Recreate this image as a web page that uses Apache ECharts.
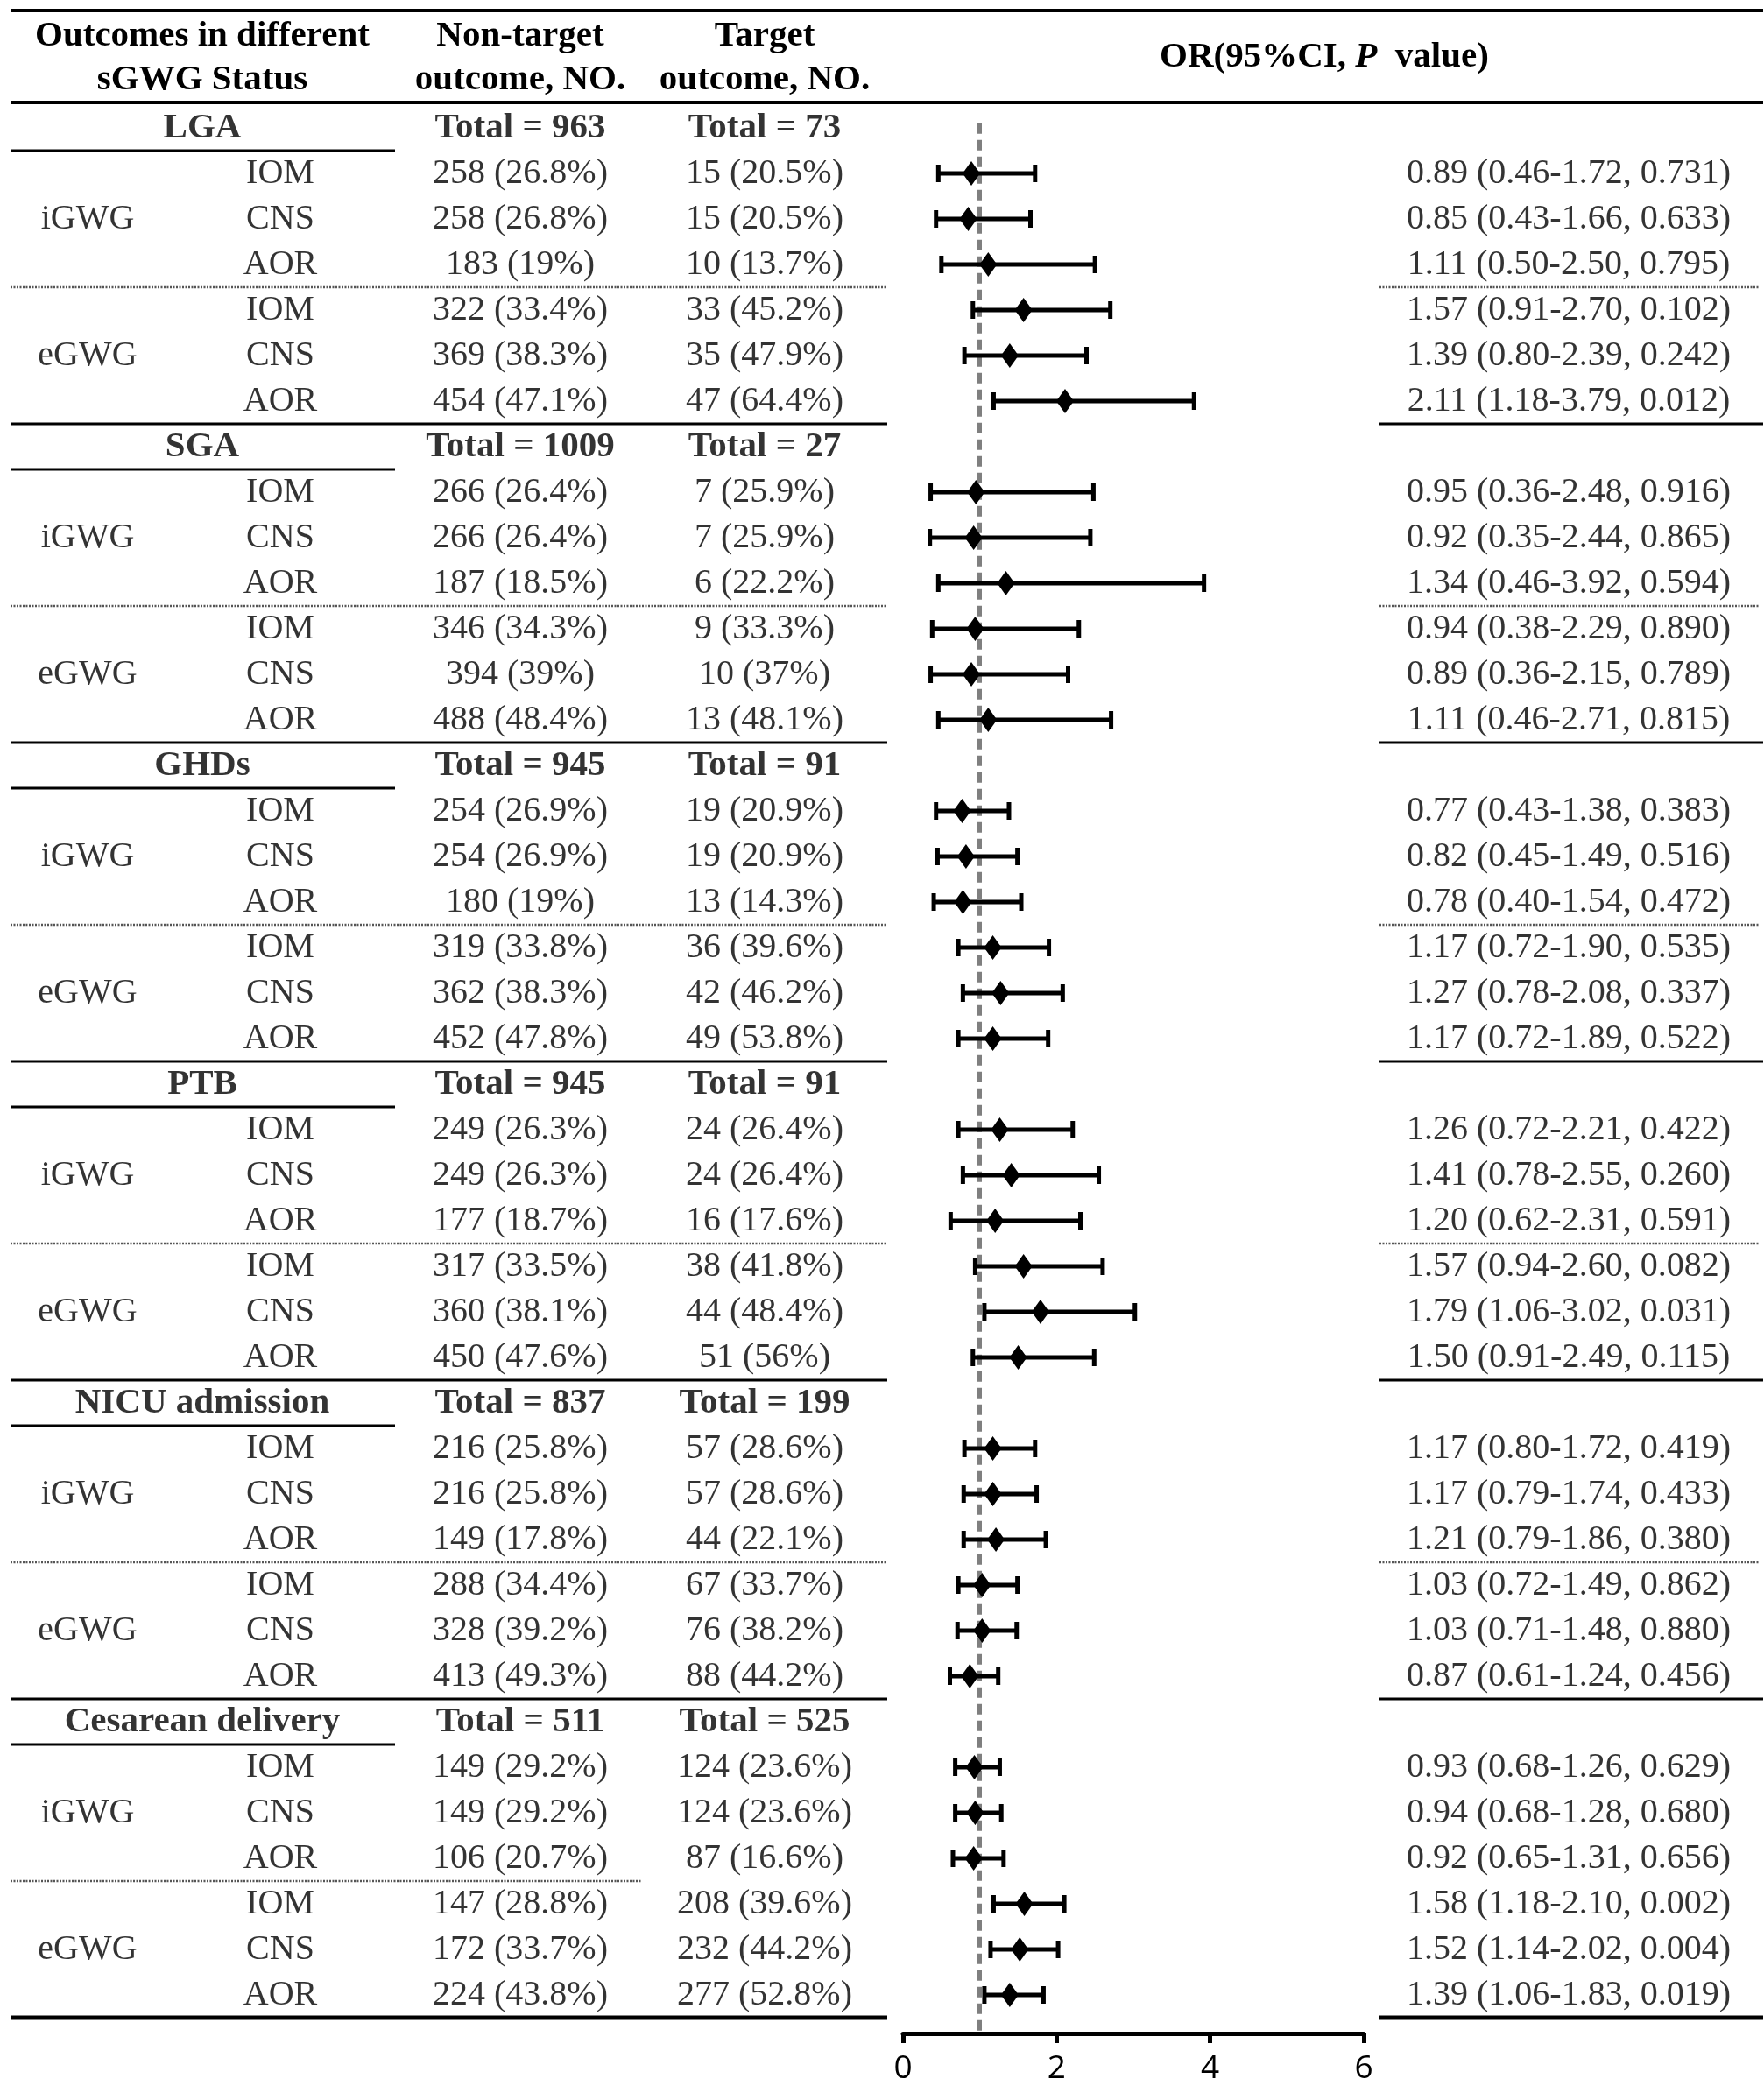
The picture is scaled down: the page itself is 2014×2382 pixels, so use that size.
<!DOCTYPE html>
<html>
<head>
<meta charset="utf-8">
<script src="https://cdn.jsdelivr.net/npm/echarts@6/dist/echarts.min.js"></script>
<style>
html,body{margin:0;padding:0;background:#fff;}
#c{width:2014px;height:2382px;}
</style>
</head>
<body>
<div id="c"></div>
<script>
// ---------------- DATA ----------------
const groups = ['LGA', 'SGA', 'GHDs', 'PTB', 'NICU admission', 'Cesarean delivery'];
const totalNonTarget = [963, 1009, 945, 945, 837, 511];
const totalTarget = [73, 27, 91, 91, 199, 525];
const statuses = ['iGWG', 'eGWG'];
const methods = ['IOM', 'CNS', 'AOR'];

const nonTargetN = [
  [258, 258, 183, 322, 369, 454],
  [266, 266, 187, 346, 394, 488],
  [254, 254, 180, 319, 362, 452],
  [249, 249, 177, 317, 360, 450],
  [216, 216, 149, 288, 328, 413],
  [149, 149, 106, 147, 172, 224]
];
const nonTargetPct = [
  ['26.8', '26.8', '19', '33.4', '38.3', '47.1'],
  ['26.4', '26.4', '18.5', '34.3', '39', '48.4'],
  ['26.9', '26.9', '19', '33.8', '38.3', '47.8'],
  ['26.3', '26.3', '18.7', '33.5', '38.1', '47.6'],
  ['25.8', '25.8', '17.8', '34.4', '39.2', '49.3'],
  ['29.2', '29.2', '20.7', '28.8', '33.7', '43.8']
];
const targetN = [
  [15, 15, 10, 33, 35, 47],
  [7, 7, 6, 9, 10, 13],
  [19, 19, 13, 36, 42, 49],
  [24, 24, 16, 38, 44, 51],
  [57, 57, 44, 67, 76, 88],
  [124, 124, 87, 208, 232, 277]
];
const targetPct = [
  ['20.5', '20.5', '13.7', '45.2', '47.9', '64.4'],
  ['25.9', '25.9', '22.2', '33.3', '37', '48.1'],
  ['20.9', '20.9', '14.3', '39.6', '46.2', '53.8'],
  ['26.4', '26.4', '17.6', '41.8', '48.4', '56'],
  ['28.6', '28.6', '22.1', '33.7', '38.2', '44.2'],
  ['23.6', '23.6', '16.6', '39.6', '44.2', '52.8']
];
const orValue = [
  [0.89, 0.85, 1.11, 1.57, 1.39, 2.11],
  [0.95, 0.92, 1.34, 0.94, 0.89, 1.11],
  [0.77, 0.82, 0.78, 1.17, 1.27, 1.17],
  [1.26, 1.41, 1.20, 1.57, 1.79, 1.50],
  [1.17, 1.17, 1.21, 1.03, 1.03, 0.87],
  [0.93, 0.94, 0.92, 1.58, 1.52, 1.39]
];
const ciLow = [
  [0.46, 0.43, 0.50, 0.91, 0.80, 1.18],
  [0.36, 0.35, 0.46, 0.38, 0.36, 0.46],
  [0.43, 0.45, 0.40, 0.72, 0.78, 0.72],
  [0.72, 0.78, 0.62, 0.94, 1.06, 0.91],
  [0.80, 0.79, 0.79, 0.72, 0.71, 0.61],
  [0.68, 0.68, 0.65, 1.18, 1.14, 1.06]
];
const ciHigh = [
  [1.72, 1.66, 2.50, 2.70, 2.39, 3.79],
  [2.48, 2.44, 3.92, 2.29, 2.15, 2.71],
  [1.38, 1.49, 1.54, 1.90, 2.08, 1.89],
  [2.21, 2.55, 2.31, 2.60, 3.02, 2.49],
  [1.72, 1.74, 1.86, 1.49, 1.48, 1.24],
  [1.26, 1.28, 1.31, 2.10, 2.02, 1.83]
];
const pValue = [
  ['0.731', '0.633', '0.795', '0.102', '0.242', '0.012'],
  ['0.916', '0.865', '0.594', '0.890', '0.789', '0.815'],
  ['0.383', '0.516', '0.472', '0.535', '0.337', '0.522'],
  ['0.422', '0.260', '0.591', '0.082', '0.031', '0.115'],
  ['0.419', '0.433', '0.380', '0.862', '0.880', '0.456'],
  ['0.629', '0.680', '0.656', '0.002', '0.004', '0.019']
];
const xTicks = [0, 2, 4, 6];
const refValue = 1;

// ---------------- LAYOUT ----------------
const W = 2014, H = 2382;
const SERIF = '"Liberation Serif", "Times New Roman", serif';
const SANS = '"Open Sans", Lato, "DejaVu Sans", sans-serif';
const ROWS_PER_GROUP = 7;
const NROWS = groups.length * ROWS_PER_GROUP;
const TABLE_TOP = 120, TABLE_BOTTOM = 2304;
const PITCH = (TABLE_BOTTOM - TABLE_TOP) / NROWS;
const AXIS_Y = 2322;
const forestYMax = -0.5 + (AXIS_Y - TABLE_TOP) / PITCH;
const COL = {group: 231, status: 100, method: 320, nonTarget: 594, target: 873, or: 1791};
const FS_REG = 40, FS_BOLD = 41;

function rowOf(g, k) { return g * ROWS_PER_GROUP + 1 + k; }

// text items
const textItems = [];
function addText(x, row, text, bold) {
  textItems.push({
    name: text, value: [x, row],
    label: {fontWeight: bold ? 'bold' : 'normal', fontSize: bold ? FS_BOLD : FS_REG}
  });
}
groups.forEach((gName, g) => {
  const r0 = g * ROWS_PER_GROUP;
  addText(COL.group, r0, gName, true);
  addText(COL.nonTarget, r0, 'Total = ' + totalNonTarget[g], true);
  addText(COL.target, r0, 'Total = ' + totalTarget[g], true);
  addText(COL.status, r0 + 2, statuses[0], false);
  addText(COL.status, r0 + 5, statuses[1], false);
  for (let k = 0; k < 6; k++) {
    const r = rowOf(g, k);
    addText(COL.method, r, methods[k % 3], false);
    addText(COL.nonTarget, r, nonTargetN[g][k] + ' (' + nonTargetPct[g][k] + '%)', false);
    addText(COL.target, r, targetN[g][k] + ' (' + targetPct[g][k] + '%)', false);
    addText(COL.or, r, orValue[g][k].toFixed(2) + ' (' + ciLow[g][k].toFixed(2) + '-' +
      ciHigh[g][k].toFixed(2) + ', ' + pValue[g][k] + ')', false);
  }
});

// rule lines: [x1, yBoundary, x2, kind]  kind 0 short, 1 dotted, 2 separator, 3 bottom
const rules = [];
groups.forEach((gName, g) => {
  const r0 = g * ROWS_PER_GROUP;
  rules.push([12, r0 + 0.5, 451, 0]);
  const last = g === groups.length - 1;
  rules.push([12, r0 + 3.5, last ? 733 : 1013, 1]);
  if (!last) rules.push([1575, r0 + 3.5, 2008, 1]);
  rules.push([12, r0 + 6.5, 1013, last ? 3 : 2]);
  rules.push([1575, r0 + 6.5, 2013, last ? 3 : 2]);
});
const ruleStyles = [
  {stroke: '#000', lineWidth: 3},
  {stroke: '#555', lineWidth: 2.5, lineDash: [2, 1.5]},
  {stroke: '#000', lineWidth: 3},
  {stroke: '#000', lineWidth: 5}
];

// forest data
const ciData = [], orData = [];
groups.forEach((gName, g) => {
  for (let k = 0; k < 6; k++) {
    const r = rowOf(g, k);
    ciData.push([ciLow[g][k], ciHigh[g][k], r]);
    orData.push([orValue[g][k], r]);
  }
});

const chart = echarts.init(document.getElementById('c'), null, {renderer: 'canvas', width: W, height: H});

const option = {
  animation: false,
  backgroundColor: '#fff',
  grid: [
    {left: 0, width: W, top: TABLE_TOP, height: TABLE_BOTTOM - TABLE_TOP},
    {left: 1031, width: 526, top: TABLE_TOP, height: AXIS_Y - TABLE_TOP}
  ],
  xAxis: [
    {gridIndex: 0, type: 'value', min: 0, max: W, show: false},
    {gridIndex: 1, type: 'value', min: 0, max: 6, interval: 2,
      axisLine: {show: true, onZero: false, lineStyle: {color: '#000', width: 5}},
      axisTick: {show: true, length: 11, lineStyle: {color: '#000', width: 5}},
      splitLine: {show: false},
      axisLabel: {fontSize: 37, color: '#000', fontFamily: SANS, margin: 22,
        formatter: v => (xTicks.indexOf(v) >= 0 ? String(v) : '')}
    }
  ],
  yAxis: [
    {gridIndex: 0, type: 'value', min: -0.5, max: NROWS - 0.5, inverse: true, show: false},
    {gridIndex: 1, type: 'value', min: -0.5, max: forestYMax, inverse: true, show: false}
  ],
  graphic: [
    {type: 'line', shape: {x1: 12, y1: 12, x2: 2013, y2: 12}, style: {stroke: '#000', lineWidth: 4}},
    {type: 'line', shape: {x1: 12, y1: 117, x2: 2013, y2: 117}, style: {stroke: '#000', lineWidth: 4}},
    {type: 'text', x: COL.group, y: 41, style: {text: 'Outcomes in different', fontFamily: SERIF, fontWeight: 'bold', fontSize: FS_BOLD, fill: '#000', textAlign: 'center', textVerticalAlign: 'middle'}},
    {type: 'text', x: COL.group, y: 91, style: {text: 'sGWG Status', fontFamily: SERIF, fontWeight: 'bold', fontSize: FS_BOLD, fill: '#000', textAlign: 'center', textVerticalAlign: 'middle'}},
    {type: 'text', x: COL.nonTarget, y: 41, style: {text: 'Non-target', fontFamily: SERIF, fontWeight: 'bold', fontSize: FS_BOLD, fill: '#000', textAlign: 'center', textVerticalAlign: 'middle'}},
    {type: 'text', x: COL.nonTarget, y: 91, style: {text: 'outcome, NO.', fontFamily: SERIF, fontWeight: 'bold', fontSize: FS_BOLD, fill: '#000', textAlign: 'center', textVerticalAlign: 'middle'}},
    {type: 'text', x: COL.target, y: 41, style: {text: 'Target', fontFamily: SERIF, fontWeight: 'bold', fontSize: FS_BOLD, fill: '#000', textAlign: 'center', textVerticalAlign: 'middle'}},
    {type: 'text', x: COL.target, y: 91, style: {text: 'outcome, NO.', fontFamily: SERIF, fontWeight: 'bold', fontSize: FS_BOLD, fill: '#000', textAlign: 'center', textVerticalAlign: 'middle'}},
    {type: 'text', x: 1512, y: 65, style: {
      text: '{a|OR(95%CI, }{b|P}{a|  value)}',
      fontFamily: SERIF, fontWeight: 'bold', fontSize: FS_BOLD, fill: '#000',
      textAlign: 'center', textVerticalAlign: 'middle',
      rich: {
        a: {fontFamily: SERIF, fontWeight: 'bold', fontSize: FS_BOLD, fill: '#000', color: '#000'},
        b: {fontFamily: SERIF, fontWeight: 'bold', fontStyle: 'italic', fontSize: FS_BOLD, fill: '#000', color: '#000'}
      }
    }}
  ],
  series: [
    {
      type: 'custom', xAxisIndex: 0, yAxisIndex: 0, silent: true, z: 1,
      data: rules,
      encode: {x: [0, 2], y: 1},
      renderItem: function (params, api) {
        const p1 = api.coord([api.value(0), api.value(1)]);
        const p2 = api.coord([api.value(2), api.value(1)]);
        const st = ruleStyles[api.value(3)];
        return {type: 'line', shape: {x1: p1[0], y1: p1[1], x2: p2[0], y2: p2[1]},
          style: Object.assign({fill: null}, st)};
      }
    },
    {
      type: 'scatter', xAxisIndex: 0, yAxisIndex: 0, silent: true, z: 3,
      symbolSize: 0,
      data: textItems,
      label: {show: true, position: 'inside', formatter: '{b}', color: '#000',
        fontFamily: SERIF, fontSize: FS_REG, align: 'center', verticalAlign: 'middle'}
    },
    {
      type: 'custom', xAxisIndex: 1, yAxisIndex: 1, silent: true, z: 4,
      data: ciData,
      encode: {x: [0, 1], y: 2},
      renderItem: function (params, api) {
        const lo = api.coord([api.value(0), api.value(2)]);
        const hi = api.coord([api.value(1), api.value(2)]);
        const cap = 10;
        const st = {stroke: '#000', lineWidth: 5};
        return {type: 'group', children: [
          {type: 'line', shape: {x1: lo[0], y1: lo[1], x2: hi[0], y2: hi[1]}, style: st},
          {type: 'line', shape: {x1: lo[0], y1: lo[1] - cap, x2: lo[0], y2: lo[1] + cap}, style: st},
          {type: 'line', shape: {x1: hi[0], y1: hi[1] - cap, x2: hi[0], y2: hi[1] + cap}, style: st}
        ]};
      }
    },
    {
      type: 'scatter', xAxisIndex: 1, yAxisIndex: 1, silent: true, z: 5,
      symbol: 'diamond', symbolSize: [20, 28],
      itemStyle: {color: '#000', opacity: 1},
      data: orData,
      markLine: {
        silent: true, symbol: 'none', z: 2,
        label: {show: false},
        lineStyle: {color: '#7f7f7f', width: 5, type: [12, 7], opacity: 1},
        data: [[{coord: [refValue, -0.1]}, {coord: [refValue, forestYMax]}]]
      }
    }
  ]
};
chart.setOption(option);
</script>
</body>
</html>
